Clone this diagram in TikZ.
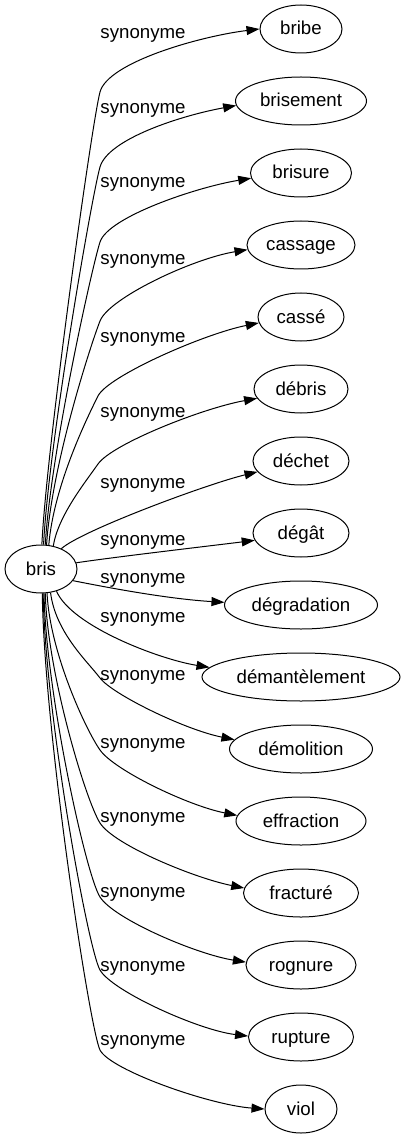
\documentclass[tikz,border=0pt]{standalone}
\usepackage{fontspec}
\setmainfont{Liberation Sans}
\usetikzlibrary{arrows.meta,shapes.geometric}
\tikzset{
  word/.style={ellipse, draw, line width=1pt, minimum height=48pt, inner sep=0pt,
    font=\fontsize{18.67}{22}\selectfont, text height=14pt, text depth=2pt},
  lab/.style={inner sep=0pt, font=\fontsize{18.67}{22}\selectfont, text height=14pt, text depth=2pt},
  edge/.style={line width=1pt, -{Triangle[length=13pt,width=9pt]}}
}
\newcommand\synedge[8]{%
  \draw[edge] (bris.#2) .. controls +(#3) and +(-#5,{-1*(#6)}) .. (#4)
    .. controls +(#5,#6) and +(#7) .. (#1.#8);}
\begin{document}
\begin{tikzpicture}[x=1pt,y=-1pt]
\useasboundingbox (0,0) rectangle (406,1139);
\node[word, minimum width=72pt] (bris) at (41,569) {bris};
\node[word, minimum width=82pt] (bribe) at (301,29) {bribe};
\node[word, minimum width=131pt] (brisement) at (301,101) {brisement};
\node[word, minimum width=101pt] (brisure) at (301,173) {brisure};
\node[word, minimum width=108pt] (cassage) at (301,245) {cassage};
\node[word, minimum width=86pt] (casse) at (301,317) {cassé};
\node[word, minimum width=94pt] (debris) at (301,389) {débris};
\node[word, minimum width=96pt] (dechet) at (301,461) {déchet};
\node[word, minimum width=96pt] (degat) at (301,533) {dégât};
\node[word, minimum width=153pt] (degradation) at (301,605) {dégradation};
\node[word, minimum width=198pt] (demantelement) at (301,677) {démantèlement};
\node[word, minimum width=143pt] (demolition) at (301,749) {démolition};
\node[word, minimum width=130pt] (effraction) at (301,821) {effraction};
\node[word, minimum width=115pt] (fracture) at (301,893) {fracturé};
\node[word, minimum width=110pt] (rognure) at (301,965) {rognure};
\node[word, minimum width=105pt] (rupture) at (301,1037) {rupture};
\node[word, minimum width=72pt] (viol) at (301,1109) {viol};

\synedge{bribe}{88}{5,-100}{100,92}{8}{-30}{-58,7}{180}
\synedge{brisement}{84}{5,-100}{100,167}{8}{-28}{-55,10}{184}
\synedge{brisure}{80}{5,-90}{100,242}{8}{-25}{-55,9}{186}
\synedge{cassage}{77}{5,-80}{100,321}{9}{-23}{-55,9}{185}
\synedge{casse}{72}{5,-60}{98,396}{10}{-20}{-55,11}{188}
\synedge{debris}{62}{5,-30}{98,464}{14}{-20}{-55,10}{192}
\draw[edge] (bris.45) .. controls +(20,-18) and +(-50,12) .. (dechet.194);
\draw[edge] (bris.10) .. controls +(40,-6) and +(-40,5) .. (degat.189);
\draw[edge] (bris.340) .. controls +(50,10) and +(-50,-3) .. (degradation.178);
\draw[edge] (bris.305) .. controls +(15,35) and +(-50,-8) .. (demantelement.174);
\synedge{demolition}{292}{5,40}{100,678}{12}{16}{-50,-10}{172}
\synedge{effraction}{284}{3,60}{100,750}{14}{20}{-50,-10}{175}
\synedge{fracture}{280}{2,80}{100,823}{14}{22}{-50,-10}{175}
\synedge{rognure}{277}{2,100}{100,897}{14}{22}{-50,-8}{177}
\synedge{rupture}{275}{2,120}{100,970}{12}{21}{-50,-6}{179}
\synedge{viol}{273}{2,140}{100,1050}{10}{20}{-55,-4}{180}

\node[lab] (l1) at (143,33) {synonyme};
\node[lab] (l2) at (143,108) {synonyme};
\node[lab] (l3) at (143,182) {synonyme};
\node[lab] (l4) at (143,259) {synonyme};
\node[lab] (l5) at (143,336) {synonyme};
\node[lab] (l6) at (143,411) {synonyme};
\node[lab] (l7) at (143,482) {synonyme};
\node[lab] (l8) at (143,539) {synonyme};
\node[lab] (l9) at (143,577) {synonyme};
\node[lab] (l10) at (143,616) {synonyme};
\node[lab] (l11) at (143,674) {synonyme};
\node[lab] (l12) at (143,742) {synonyme};
\node[lab] (l13) at (143,816) {synonyme};
\node[lab] (l14) at (143,891) {synonyme};
\node[lab] (l15) at (143,965) {synonyme};
\node[lab] (l16) at (143,1039) {synonyme};
\end{tikzpicture}
\end{document}
